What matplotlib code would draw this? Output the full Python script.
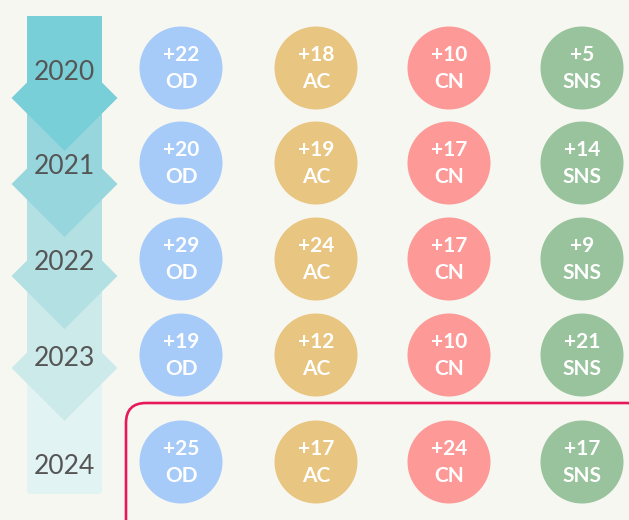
import matplotlib
matplotlib.use('Agg')
import matplotlib.pyplot as plt
from matplotlib.patches import Circle, Polygon, FancyBboxPatch, Rectangle

# data
years = ['2020', '2021', '2022', '2023', '2024']
categories = ['OD', 'AC', 'CN', 'SNS']
od = [22, 20, 29, 19, 25]
ac = [18, 19, 24, 12, 17]
cn = [10, 17, 17, 10, 24]
sns_vals = [5, 14, 9, 21, 17]
series = [od, ac, cn, sns_vals]

cat_colors = ['#a7cbf8', '#e8c580', '#fd9a98', '#98c39c']
strip_colors = ['#79cfd7', '#97d6dc', '#b3e0e3', '#cdeaeb', '#e2f3f3']

bg = '#f7f7f2'
plt.rcParams['font.family'] = ['Lato', 'DejaVu Sans']

fig = plt.figure(figsize=(6.29, 5.2), dpi=100, facecolor=bg)
ax = fig.add_axes([0, 0, 1, 1])
ax.set_xlim(0, 629)
ax.set_ylim(520, 0)
ax.set_facecolor(bg)
ax.axis('off')

# layout (pixels)
row_y = [68, 163, 259, 355, 462]
col_x = [181, 316, 449, 582]
radius = 41.5
strip_left, strip_right = 27, 102
strip_top, strip_bottom = 16, 494
strip_cx = (strip_left + strip_right) / 2
arrow_y = [98, 184, 276, 368]
arrow_r = 53

# timeline strip: last segment first so earlier arrows sit on top
last = FancyBboxPatch((strip_left, arrow_y[-1]), strip_right - strip_left,
                      strip_bottom - arrow_y[-1],
                      boxstyle='round,pad=0,rounding_size=4',
                      fc=strip_colors[-1], ec='none', zorder=1)
ax.add_patch(last)
for i in range(len(arrow_y) - 1, -1, -1):
    top = strip_top if i == 0 else arrow_y[i - 1]
    ay = arrow_y[i]
    z = 2 + (len(arrow_y) - i)
    ax.add_patch(Rectangle((strip_left, top), strip_right - strip_left, ay - top,
                           fc=strip_colors[i], ec='none', zorder=z))
    diamond = [(strip_cx - arrow_r, ay), (strip_cx, ay - arrow_r),
               (strip_cx + arrow_r, ay), (strip_cx, ay + arrow_r)]
    ax.add_patch(Polygon(diamond, closed=True, fc=strip_colors[i], ec='none', zorder=z))

for yr, y in zip(years, row_y):
    ax.text(strip_cx, y + 4, yr, ha='center', va='center', fontsize=19,
            color='#555555', zorder=20)

# circles
for r, y in enumerate(row_y):
    for c, x in enumerate(col_x):
        ax.add_patch(Circle((x, y), radius, fc=cat_colors[c], ec='none', zorder=5))
        ax.text(x, y - 13, '+%d' % series[c][r], ha='center', va='center',
                fontsize=15, fontweight='bold', color='white', zorder=6)
        ax.text(x, y + 14, categories[c], ha='center', va='center',
                fontsize=15, fontweight='bold', color='white', zorder=6)

# highlight box around latest year
box = FancyBboxPatch((126, 403), 520, 140,
                     boxstyle='round,pad=0,rounding_size=20',
                     fc='none', ec='#e8195a', lw=1.9, zorder=4)
ax.add_patch(box)

fig.savefig('out.png', dpi=100, facecolor=bg)
